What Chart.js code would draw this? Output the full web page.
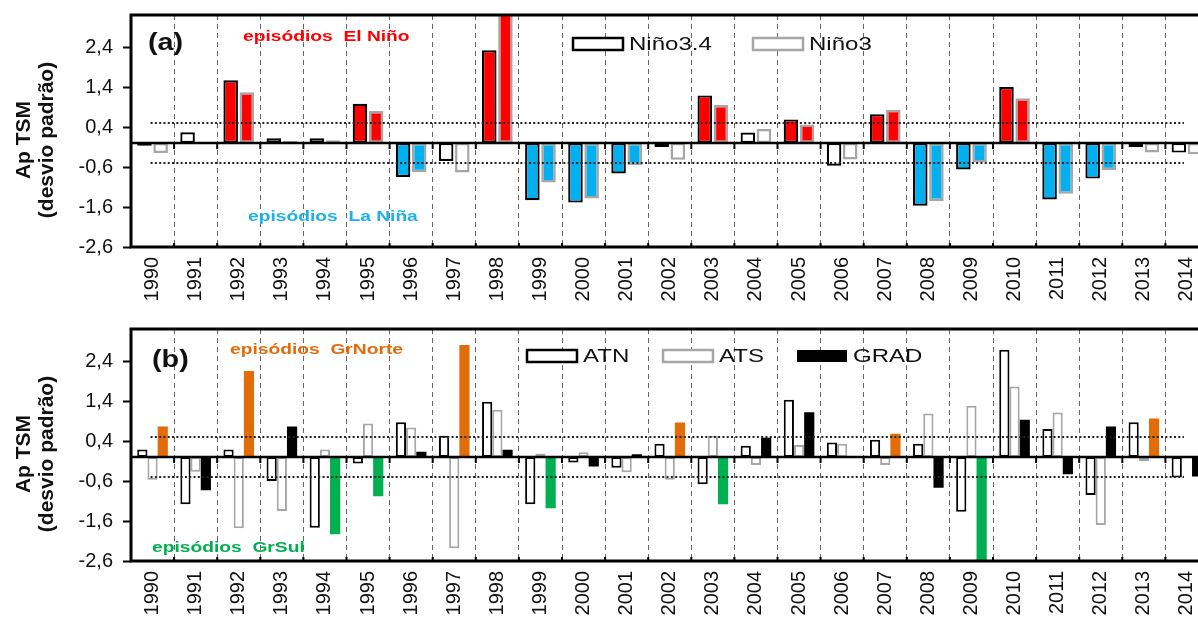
<!DOCTYPE html>
<html>
<head>
<meta charset="utf-8">
<title>Anomalias de TSM - Pacífico e Atlântico</title>
<script src="https://cdn.jsdelivr.net/npm/chart.js@4.4.0/dist/chart.umd.min.js"></script>
<style>
  html, body { margin: 0; padding: 0; background: #fff; overflow: hidden; width: 1198px; height: 623px; }
  .painel { position: absolute; left: 0; width: 1212px; }
  #pa { top: 0; height: 310px; }
  #pb { top: 314px; height: 309px; }
</style>
</head>
<body>
<div class="painel" id="pa"><canvas id="graficoA"></canvas></div>
<div class="painel" id="pb"><canvas id="graficoB"></canvas></div>
<script>
// dados (desvio padrão)
var anos = ['1990','1991','1992','1993','1994','1995','1996','1997','1998','1999','2000','2001','2002',
            '2003','2004','2005','2006','2007','2008','2009','2010','2011','2012','2013','2014'];

var nino34 = [-0.07, 0.27, 1.57, 0.12, 0.12, 0.98, -0.85, -0.45, 2.32, -1.43, -1.49, -0.76, -0.10,
              1.19, 0.26, 0.59, -0.57, 0.72, -1.57, -0.66, 1.40, -1.41, -0.89, -0.10, -0.24];
var nino3  = [-0.25, -0.03, 1.27, 0.05, 0.07, 0.80, -0.73, -0.74, 3.30, -0.99, -1.39, -0.55, -0.42,
              0.95, 0.35, 0.46, -0.41, 0.83, -1.45, -0.49, 1.12, -1.27, -0.68, -0.24, -0.28];
var anosElNino = ['1992','1995','1998','2003','2005','2007','2010'];
var anosLaNina = ['1996','1999','2000','2001','2008','2009','2011','2012'];

var atn  = [0.19, -1.18, 0.19, -0.60, -1.77, -0.16, 0.87, 0.53, 1.38, -1.18, -0.14, -0.27, 0.33,
            -0.68, 0.28, 1.43, 0.36, 0.43, 0.33, -1.37, 2.68, 0.70, -0.95, 0.87, -0.51];
var ats  = [-0.57, -0.37, -1.78, -1.35, 0.19, 0.84, 0.74, -2.28, 1.18, 0.09, 0.12, -0.38, -0.57,
            0.53, -0.20, 0.30, 0.33, -0.20, 1.09, 1.28, 1.76, 1.11, -1.70, -0.10, 0.00];
var grad = [0.76, -0.83, 2.15, 0.76, -1.93, -0.98, 0.13, 2.80, 0.18, -1.28, -0.24, 0.07, 0.86,
            -1.18, 0.48, 1.12, 0.00, 0.58, -0.77, -2.70, 0.93, -0.43, 0.76, 0.96, -0.49];
var anosGrNorte = ['1990','1992','1997','2002','2007','2013'];
var anosGrSul   = ['1994','1995','1999','2003','2009'];

var ticksY = [-2.6, -1.6, -0.6, 0.4, 1.4, 2.4];
var limiares = [0.5, -0.5];

var fonte = '"Liberation Sans", Arial, sans-serif';
var VERMELHO = '#ff0000', AZUL = '#00b0f0', LARANJA = '#e36c0a', VERDE = '#00b050', CINZA = '#a6a6a6';

function coresPorEpisodio(quentes, frios, corQ, corF, corNeutra) {
  return anos.map(function (a) {
    if (quentes.indexOf(a) >= 0) return corQ;
    if (frios.indexOf(a) >= 0) return corF;
    return corNeutra;
  });
}

// texto um pouco alargado na horizontal, como na figura original
function textoLargo(ctx, txt, x, y, sx) {
  ctx.save();
  ctx.translate(x, y);
  ctx.scale(sx, 1);
  ctx.fillText(txt, 0, 0);
  ctx.restore();
}

// linhas de referência, moldura, textos e legenda
var decoracao = {
  id: 'decoracao',
  afterDatasetsDraw: function (chart, args, opts) {
    var ctx = chart.ctx, a = chart.chartArea, x = chart.scales.x, y = chart.scales.y;
    var larg = x.getPixelForValue(1) - x.getPixelForValue(0);
    ctx.save();

    ctx.setLineDash([2, 2.3]);
    ctx.lineWidth = 2;
    ctx.strokeStyle = '#222';
    limiares.forEach(function (v) {
      var py = y.getPixelForValue(v);
      ctx.beginPath();
      ctx.moveTo(x.getPixelForValue(0) - 2, py);
      ctx.lineTo(x.getPixelForValue(anos.length - 1) - 3, py);
      ctx.stroke();
    });
    ctx.setLineDash([]);

    var y0 = y.getPixelForValue(0);
    ctx.strokeStyle = '#000';
    ctx.lineWidth = 2.5;
    ctx.beginPath();
    ctx.moveTo(a.left, y0);
    ctx.lineTo(a.right, y0);
    ctx.stroke();

    ctx.lineWidth = 2;
    for (var i = 1; i <= anos.length; i++) {
      var px = x.getPixelForValue(i) - larg / 2;
      ctx.beginPath();
      ctx.moveTo(px, y0);
      ctx.lineTo(px, y0 + 6);
      ctx.moveTo(px, a.bottom);
      ctx.lineTo(px, a.bottom - 4);
      ctx.stroke();
    }

    ctx.lineWidth = 3;
    ctx.strokeRect(a.left, a.top, a.right - a.left, a.bottom - a.top);

    // título do eixo y
    ctx.fillStyle = '#111';
    ctx.font = 'bold 21px ' + fonte;
    ctx.textAlign = 'center';
    ctx.textBaseline = 'middle';
    ctx.save();
    ctx.translate(24, 140);
    ctx.rotate(-Math.PI / 2);
    ctx.fillText('Ap TSM', 0, 0);
    ctx.fillText('(desvio padrão)', 0, 23);
    ctx.restore();

    ctx.textAlign = 'left';
    opts.textos.forEach(function (t) {
      ctx.fillStyle = t.cor;
      ctx.font = t.fonte;
      textoLargo(ctx, t.texto, t.x, t.y, t.sx);
    });

    ctx.font = '18.5px ' + fonte;
    opts.legenda.forEach(function (l, k) {
      var ds = chart.data.datasets[k];
      if (l.cheio) {
        ctx.fillStyle = l.cheio;
        ctx.fillRect(l.x, l.y, 50, 12);
      } else {
        ctx.fillStyle = '#fff';
        ctx.fillRect(l.x, l.y, 50, 12);
        ctx.strokeStyle = ds.borderColor;
        ctx.lineWidth = 2.5;
        ctx.strokeRect(l.x, l.y, 50, 12);
      }
      ctx.fillStyle = '#111';
      textoLargo(ctx, ds.label, l.x + 56, l.y + 6.5, 1.3);
    });
    ctx.restore();
  }
};

function opcoes(altEixoX, textos, legenda) {
  return {
    responsive: true,
    maintainAspectRatio: false,
    animation: false,
    layout: { padding: { top: 15, right: 3.5, left: 0, bottom: 0 } },
    plugins: {
      legend: { display: false },
      tooltip: { enabled: false },
      decoracao: { textos: textos, legenda: legenda }
    },
    scales: {
      x: {
        offset: true,
        grid: { display: true, offset: true, drawOnChartArea: true, drawTicks: false, color: '#666', lineWidth: 1 },
        border: { display: false, dash: [5, 4] },
        ticks: { autoSkip: false, maxRotation: 90, minRotation: 90, padding: 10, color: '#111',
                 font: { family: fonte, size: 20 } },
        afterFit: function (s) { s.height = altEixoX; s.paddingLeft = 0; s.paddingRight = 0; }
      },
      y: {
        min: -2.6,
        max: 3.2,
        afterBuildTicks: function (s) { s.ticks = ticksY.map(function (v) { return { value: v }; }); },
        grid: { drawOnChartArea: false, drawTicks: true, tickLength: 8, tickWidth: 2, tickColor: '#000' },
        border: { display: false },
        ticks: { padding: 10, color: '#111', font: { family: fonte, size: 20 },
                 callback: function (v) { return v.toFixed(1).replace('.', ','); } },
        afterFit: function (s) { s.width = 131; s.paddingTop = 0; s.paddingBottom = 0; }
      }
    }
  };
}

new Chart(document.getElementById('graficoA'), {
  type: 'bar',
  data: {
    labels: anos,
    datasets: [{
      label: 'Niño3.4',
      data: nino34,
      backgroundColor: coresPorEpisodio(anosElNino, anosLaNina, VERMELHO, AZUL, '#fff'),
      borderColor: '#000',
      borderWidth: 2.2,
      borderSkipped: false,
      categoryPercentage: 0.75,
      barPercentage: 0.9,
      clip: 0
    }, {
      label: 'Niño3',
      data: nino3,
      backgroundColor: coresPorEpisodio(anosElNino, anosLaNina, VERMELHO, AZUL, '#fff'),
      borderColor: CINZA,
      borderWidth: 2.5,
      borderSkipped: false,
      categoryPercentage: 0.75,
      barPercentage: 0.9,
      clip: 0
    }]
  },
  options: opcoes(63, [
    { texto: '(a)', x: 148, y: 43, sx: 1.2, cor: '#111', fonte: 'bold 24px ' + fonte },
    { texto: 'episódios  El Niño', x: 243, y: 37, sx: 1.24, cor: VERMELHO, fonte: 'bold 15.5px ' + fonte },
    { texto: 'episódios  La Niña', x: 248, y: 217, sx: 1.24, cor: '#1eb0ea', fonte: 'bold 15.5px ' + fonte }
  ], [
    { x: 573, y: 38 },
    { x: 753, y: 38 }
  ]),
  plugins: [decoracao]
});

new Chart(document.getElementById('graficoB'), {
  type: 'bar',
  data: {
    labels: anos,
    datasets: [{
      label: 'ATN',
      data: atn,
      backgroundColor: '#fff',
      borderColor: '#000',
      borderWidth: 2,
      borderSkipped: false,
      categoryPercentage: 0.71,
      barPercentage: 1.0,
      clip: 0
    }, {
      label: 'ATS',
      data: ats,
      backgroundColor: '#fff',
      borderColor: CINZA,
      borderWidth: 2,
      borderSkipped: false,
      categoryPercentage: 0.71,
      barPercentage: 1.0,
      clip: 0
    }, {
      label: 'GRAD',
      data: grad,
      backgroundColor: coresPorEpisodio(anosGrNorte, anosGrSul, LARANJA, VERDE, '#000'),
      borderColor: '#000',
      borderWidth: 0,
      categoryPercentage: 0.71,
      barPercentage: 1.0,
      clip: 0
    }]
  },
  options: opcoes(62, [
    { texto: '(b)', x: 152, y: 46, sx: 1.2, cor: '#111', fonte: 'bold 24px ' + fonte },
    { texto: 'episódios  GrNorte', x: 230, y: 36, sx: 1.24, cor: LARANJA, fonte: 'bold 15.5px ' + fonte },
    { texto: 'episódios  GrSul', x: 152, y: 234, sx: 1.24, cor: VERDE, fonte: 'bold 15.5px ' + fonte }
  ], [
    { x: 527, y: 36 },
    { x: 663, y: 36 },
    { x: 797, y: 36, cheio: '#000' }
  ]),
  plugins: [decoracao]
});
</script>
</body>
</html>
